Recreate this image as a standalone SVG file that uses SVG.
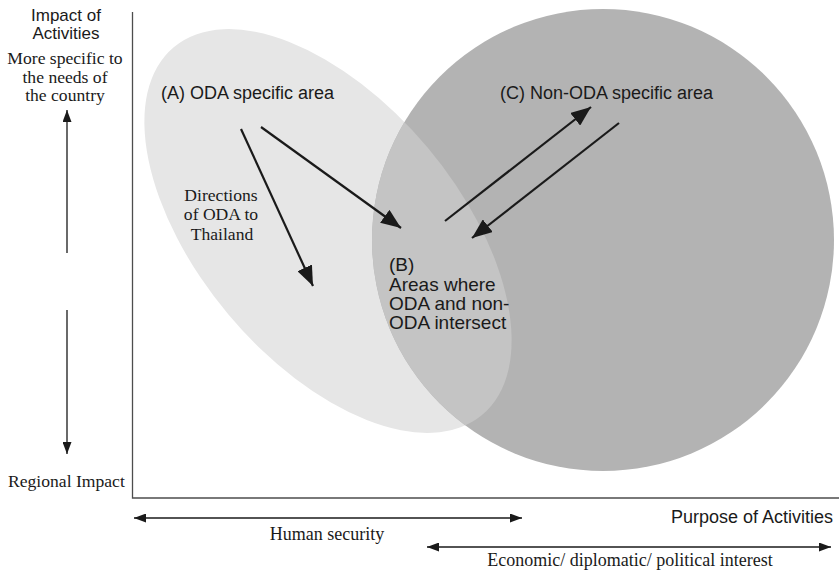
<svg xmlns="http://www.w3.org/2000/svg" width="839" height="573" viewBox="0 0 839 573">
  <defs>
    <style>
      .sans { font-family: "Liberation Sans", Arial, Helvetica, sans-serif; fill: #1a1a1a; }
      .serif { font-family: "Liberation Serif", "Times New Roman", serif; fill: #1a1a1a; }
      .axis { stroke: #4d4d4d; stroke-width: 1.3; fill: none; }
      .dir { stroke: #1a1a1a; stroke-width: 2.2; fill: none; marker-end: url(#bigHead); }
      .scale { stroke: #1a1a1a; stroke-width: 1.3; fill: none; }
    </style>
    <marker id="bigHead" viewBox="0 0 20 16" refX="20" refY="8" markerWidth="20" markerHeight="16" markerUnits="userSpaceOnUse" orient="auto">
      <path d="M0,0 L20,8 L0,16 z" fill="#1a1a1a"/>
    </marker>
    <marker id="smallHead" viewBox="0 0 12 9" refX="12" refY="4.5" markerWidth="12" markerHeight="9" markerUnits="userSpaceOnUse" orient="auto-start-reverse">
      <path d="M0,0 L12,4.5 L0,9 z" fill="#1a1a1a"/>
    </marker>
    <ellipse id="odaShape" cx="328" cy="231" rx="240" ry="130" transform="rotate(50 328 231)"/>
    <clipPath id="nonOdaClip">
      <circle cx="603" cy="240" r="231"/>
    </clipPath>
  </defs>

  <!-- areas -->
  <g id="area-a">
    <use href="#odaShape" fill="#e6e6e6"/>
  </g>
  <g id="area-c">
    <circle cx="603" cy="240" r="231" fill="#b3b3b3"/>
  </g>
  <g id="area-b">
    <use href="#odaShape" fill="#c4c4c4" clip-path="url(#nonOdaClip)"/>
  </g>

  <!-- axes -->
  <g id="axes">
    <polyline class="axis" points="132.5,12 132.5,498 839,498"/>
  </g>

  <!-- connectors -->
  <g id="connectors">
    <line class="dir" x1="241" y1="129" x2="313" y2="286"/>
    <line class="dir" x1="261" y1="127" x2="401" y2="228"/>
    <line class="dir" x1="445" y1="221" x2="591" y2="107"/>
    <line class="dir" x1="619" y1="123" x2="472" y2="238"/>
    <line class="scale" x1="67" y1="253" x2="67" y2="110" marker-end="url(#smallHead)"/>
    <line class="scale" x1="67" y1="310" x2="67" y2="454" marker-end="url(#smallHead)"/>
    <line class="scale" x1="134" y1="518" x2="522" y2="518" marker-start="url(#smallHead)" marker-end="url(#smallHead)"/>
    <line class="scale" x1="427" y1="547" x2="831" y2="547" marker-start="url(#smallHead)" marker-end="url(#smallHead)"/>
  </g>

  <!-- labels -->
  <g id="y-axis-label">
    <text class="sans" font-size="17" text-anchor="middle" x="66" y="21">Impact of</text>
    <text class="sans" font-size="17" text-anchor="middle" x="66" y="39">Activities</text>
    <text class="serif" font-size="17.6" text-anchor="middle" x="65" y="64">More specific to</text>
    <text class="serif" font-size="17.6" text-anchor="middle" x="65" y="83">the needs of</text>
    <text class="serif" font-size="17.6" text-anchor="middle" x="65" y="101">the country</text>
    <text class="serif" font-size="17.6" x="8" y="487">Regional Impact</text>
  </g>
  <g id="label-a">
    <text class="sans" font-size="18" x="161" y="99">(A) ODA specific area</text>
  </g>
  <g id="label-c">
    <text class="sans" font-size="18" x="500" y="99">(C) Non-ODA specific area</text>
  </g>
  <g id="label-directions">
    <text class="serif" font-size="17.6" text-anchor="middle" x="221" y="201">Directions</text>
    <text class="serif" font-size="17.6" text-anchor="middle" x="221" y="220">of ODA to</text>
    <text class="serif" font-size="17.6" text-anchor="middle" x="222" y="240">Thailand</text>
  </g>
  <g id="label-b">
    <text class="sans" font-size="19" x="389" y="271">(B)</text>
    <text class="sans" font-size="19" x="389" y="291">Areas where</text>
    <text class="sans" font-size="19" x="389" y="310">ODA and non-</text>
    <text class="sans" font-size="19" x="389" y="329">ODA intersect</text>
  </g>
  <g id="x-axis-label">
    <text class="sans" font-size="18" text-anchor="end" x="833" y="523">Purpose of Activities</text>
    <text class="serif" font-size="18" text-anchor="middle" x="327" y="540">Human security</text>
    <text class="serif" font-size="18" text-anchor="middle" x="630" y="566">Economic/ diplomatic/ political interest</text>
  </g>
</svg>
